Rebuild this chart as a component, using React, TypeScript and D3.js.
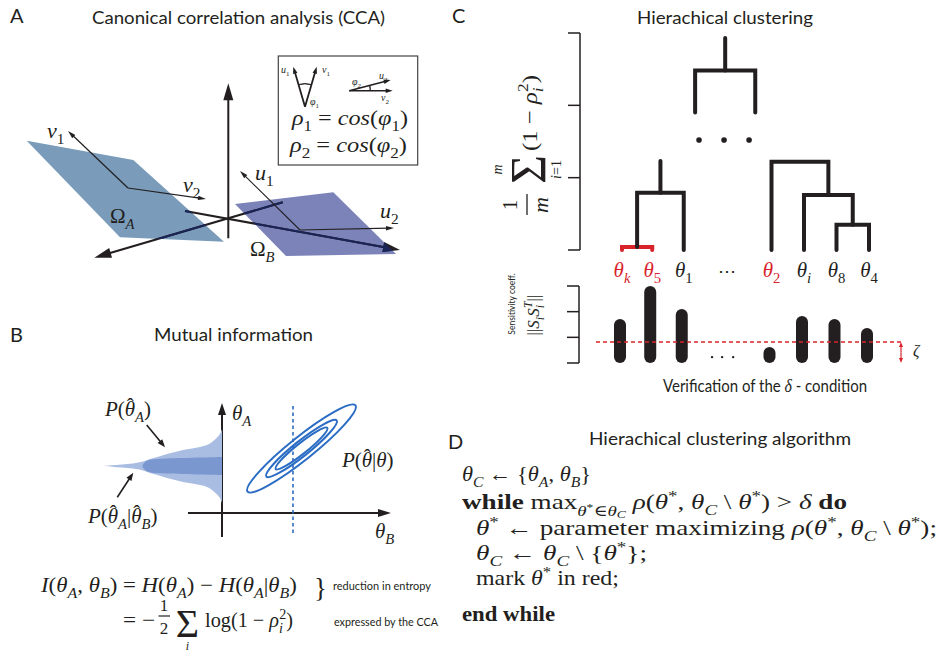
import React from 'react';
import * as d3 from 'd3';

const W = 939;
const H = 652;
const INK = '#231f20';
const RED = '#d9232a';
const SERIF = '"Liberation Serif", "DejaVu Serif", serif';
const SANS = 'Lato, "Open Sans", sans-serif';

// ---------------- Panel A (CCA) schematic geometry ----------------
const planeA: [number, number][] = [[26.7, 140.7], [133.3, 160], [224, 241.7], [120, 237.3]];
const planeB: [number, number][] = [[235, 204], [333.3, 192.3], [396, 254], [286, 256]];
const axisUp = [[228.3, 238.3], [228.3, 83.3]];
const axisRight = [[185, 211], [400, 250]];
const axisLeft = [[282.7, 202.3], [94.3, 257.7]];
const vOrigin = [128, 188];
const vTips = [[68, 131], [206, 199]];
const uOrigin = [300, 230];
const uTips = [[240, 171], [394, 228]];
const insetBox = [[278.3, 56], [417.7, 165]];
const insetApex = [305, 106.7];
const insetVTips = [[293.3, 66.7], [316.7, 66.7]];
const insetHOrigin = [349.3, 90.7];
const insetHTips = [[392.7, 90.7], [390.7, 80]];

// ---------------- Panel B (mutual information) ----------------
// half-width of the distributions as a function of the distance from the theta_A axis
const priorProfile: [number, number][] = [[0, 37], [2, 32], [5, 28.5], [10, 24], [15, 21], [22, 19], [30, 17.5], [39, 16], [47, 14], [55, 12], [63, 9.5], [72, 7], [79, 4.5], [89, 2.6], [100, 1.5], [110, 0.7], [119, 0]];
const posteriorProfile: [number, number][] = [[0, 9], [10, 8.8], [20, 8.5], [40, 8], [55, 7.6], [65, 7.1], [71, 6.4], [75, 5.2], [77.5, 3.6], [79, 1.5], [79.5, 0]];
const contourRx = [69, 45, 33];
const contourRy = [11.5, 7.5, 5.3];
const contourCenter = [301.5, 448.5];
const contourAngle = -38.6;

// ---------------- Panel C (dendrogram + sensitivities) ----------------
const leafSub = ['k', '5', '1', '2', 'i', '8', '4'];
const leafSubItalic = [true, false, false, false, true, false, false];
const leafRed = [true, true, false, true, false, false, false];
const leafSlot = [0, 0.93, 1.9, 4.6, 5.6, 6.6, 7.6];
const merges = [
  { a: 0, b: 1, h: 0.04, red: true },
  { a: 7, b: 2, h: 0.79, red: false },
  { a: 5, b: 6, h: 0.35, red: false },
  { a: 4, b: 9, h: 0.76, red: false },
  { a: 3, b: 10, h: 1.22, red: false },
];
const openStems = [{ node: 8, top: 1.23 }];
const rootBranchSlots = [2.25, 4.1];
const rootBranchBottom = 1.9;
const rootMerge = 2.48;
const rootTop = 2.93;
const elisionSlots = [2.37, 3.14, 3.91];
const elisionHeight = 1.52;
const leafEllipsisSlot = 3.23;
const dendroTicks = [0, 1, 2, 3];
const sensitivity = [1.71, 3.0, 2.1, 0.62, 1.83, 1.71, 1.36];
const sensTicks = [0, 1, 2, 3];
const deltaThreshold = 0.82;
const barEllipsisSlots = [2.77, 3.08, 3.42];
const barEllipsisValue = 0.23;

// ---------------- Math text helpers ----------------
type Seg = { t: string; i?: boolean; b?: boolean; off?: number; sc?: number; dx?: number; f?: string; c?: string };
const it = (t: string): Seg => ({ t, i: true });
const rm = (t: string): Seg => ({ t });
const bd = (t: string): Seg => ({ t, b: true });
const sb = (t: string, i = false, dx?: number): Seg => ({ t, i, off: 0.28, sc: 0.7, dx });
const sp = (t: string, i = false): Seg => ({ t, i, off: -0.38, sc: 0.7 });
// theta with a hat: the hat is a separate glyph pulled back over the theta
const hatTheta = (size: number): Seg[] => [it('θ'), { t: 'ˆ', dx: -0.4 * size, off: -0.12 }];
const afterHat = (size: number) => 0.06 * size;

function MText({ x, y, size, segs, fill = INK, anchor = 'start', len, family = SERIF, transform }: any) {
  let cur = 0;
  const kids = segs.map((s: Seg, k: number) => {
    const target = (s.off ?? 0) * size;
    const dy = target - cur;
    cur = target;
    return (
      <tspan key={k} dy={dy !== 0 ? dy : undefined} dx={s.dx} fontStyle={s.i ? 'italic' : 'normal'}
        fontWeight={s.b ? 'bold' : 'normal'} fontSize={size * (s.sc ?? 1)} fontFamily={s.f} fill={s.c}>{s.t}</tspan>
    );
  });
  return (
    <text x={x} y={y} fontSize={size} fontFamily={family} fill={fill} textAnchor={anchor}
      textLength={len} lengthAdjust={len ? 'spacingAndGlyphs' : undefined} transform={transform}
      style={{ whiteSpace: 'pre' }}>{kids}</text>
  );
}

function Arrow({ from, to, head = 10, width = 7, sw = 1.5, color = INK }: any) {
  const [x1, y1] = from;
  const [x2, y2] = to;
  const dx = x2 - x1, dy = y2 - y1;
  const L = Math.hypot(dx, dy);
  const ux = dx / L, uy = dy / L;
  const bx = x2 - ux * head, by = y2 - uy * head;
  const px = (-uy * width) / 2, py = (ux * width) / 2;
  return (
    <g>
      <line x1={x1} y1={y1} x2={x2 - ux * head * 0.6} y2={y2 - uy * head * 0.6} stroke={color} strokeWidth={sw} />
      <path d={`M${x2},${y2}L${bx + px},${by + py}L${bx - px},${by - py}Z`} fill={color} />
    </g>
  );
}

function Title({ x, y, text, len, size = 17 }: any) {
  return (
    <text x={x} y={y} fontFamily={SANS} fontSize={size} fill={INK} textAnchor="middle" textLength={len} lengthAdjust="spacingAndGlyphs">{text}</text>
  );
}

function PanelLetter({ x, y, text }: any) {
  return <text x={x} y={y} fontFamily={SANS} fontSize={20} fill={INK}>{text}</text>;
}

// ---------------- Panel A ----------------
function PanelA() {
  const poly = (p: [number, number][]) => 'M' + p.map((q) => q.join(',')).join('L') + 'Z';
  const axisLine = (a: number[][]) => (
    <Arrow from={a[0]} to={a[1]} head={17} width={10} sw={2} />
  );
  const arcPath = (cx: number, cy: number, r: number, a0: number, a1: number) => {
    const arc = d3.arc()({ innerRadius: r, outerRadius: r, startAngle: a0, endAngle: a1 } as any) as string;
    return <path d={arc} transform={`translate(${cx},${cy})`} fill="none" stroke={INK} strokeWidth={0.9} />;
  };
  const angL = Math.atan2(insetVTips[0][0] - insetApex[0], -(insetVTips[0][1] - insetApex[1]));
  const angR = Math.atan2(insetVTips[1][0] - insetApex[0], -(insetVTips[1][1] - insetApex[1]));
  const angU = Math.atan2(insetHTips[1][0] - insetHOrigin[0], -(insetHTips[1][1] - insetHOrigin[1]));
  return (
    <g>
      <defs>
        <clipPath id="planesClip">
          <path d={poly(planeA)} />
          <path d={poly(planeB)} />
        </clipPath>
      </defs>
      <PanelLetter x={10} y={23} text="A" />
      <Title x={238.5} y={23.5} text="Canonical correlation analysis (CCA)" len={293} />
      <path d={poly(planeA)} fill="#7a9cba" />
      <path d={poly(planeB)} fill="#7b83b9" />
      {axisLine(axisUp)}
      {axisLine(axisRight)}
      {axisLine(axisLeft)}
      <g clipPath="url(#planesClip)">
        <Arrow from={axisRight[0]} to={axisRight[1]} head={17} width={10} sw={2} color="#1b2456" />
        <Arrow from={axisLeft[0]} to={axisLeft[1]} head={17} width={10} sw={2} color="#1b2456" />
      </g>
      {vTips.map((t, k) => <Arrow key={'v' + k} from={vOrigin} to={t} head={8} width={4.5} sw={1.2} />)}
      {uTips.map((t, k) => <Arrow key={'u' + k} from={uOrigin} to={t} head={8} width={4.5} sw={1.1} color="#222" />)}
      <MText x={47} y={138} size={22} segs={[it('v'), sb('1')]} />
      <MText x={183} y={192} size={22} segs={[it('v'), sb('2')]} />
      <MText x={255} y={180} size={22} segs={[it('u'), sb('1')]} />
      <MText x={380} y={218} size={22} segs={[it('u'), sb('2')]} />
      <MText x={110} y={223} size={21} segs={[rm('Ω'), sb('A', true)]} />
      <MText x={250} y={256} size={21} segs={[rm('Ω'), sb('B', true)]} />
      {/* inset */}
      <rect x={insetBox[0][0]} y={insetBox[0][1]} width={insetBox[1][0] - insetBox[0][0]} height={insetBox[1][1] - insetBox[0][1]} fill="#fff" stroke="#444" strokeWidth={1.2} />
      {insetVTips.map((t, k) => <Arrow key={'iv' + k} from={insetApex} to={t} head={7} width={4.5} sw={1.8} />)}
      {insetHTips.map((t, k) => <Arrow key={'ih' + k} from={insetHOrigin} to={t} head={7} width={4.5} sw={1.6} />)}
      {arcPath(insetApex[0], insetApex[1], 23, angL, angR)}
      {arcPath(insetHOrigin[0], insetHOrigin[1], 21, angU, Math.PI / 2)}
      <MText x={281} y={73} size={10} segs={[it('u'), sb('1')]} />
      <MText x={322} y={73} size={10} segs={[it('v'), sb('1')]} />
      <MText x={310} y={105} size={10} segs={[it('φ'), sb('1')]} />
      <MText x={352} y={85} size={10} segs={[it('φ'), sb('2')]} />
      <MText x={379} y={79} size={10} segs={[it('u'), sb('2')]} />
      <MText x={381} y={101} size={10} segs={[it('v'), sb('2')]} />
      <MText x={292} y={125} size={20} len={116} segs={[it('ρ'), sb('1'), rm(' = '), it('cos'), rm('('), it('φ'), sb('1'), rm(')')]} />
      <MText x={290} y={152} size={20} len={117} segs={[it('ρ'), sb('2'), rm(' = '), it('cos'), rm('('), it('φ'), sb('2'), rm(')')]} />
    </g>
  );
}

// ---------------- Panel B ----------------
function PanelB() {
  const axisX = 222;
  const dX = d3.scaleLinear().domain([0, 119]).range([axisX, axisX - 119]);
  const yC = d3.scaleLinear().domain([-40, 40]).range([466 + 40, 466 - 40]);
  const area = d3.area<[number, number]>()
    .x((p) => dX(p[0]))
    .y0((p) => yC(-p[1]))
    .y1((p) => yC(p[1]))
    .curve(d3.curveCatmullRom);
  const s = 21;
  return (
    <g>
      <PanelLetter x={10} y={341.5} text="B" />
      <Title x={233.5} y={341} text="Mutual information" len={159} />
      <Arrow from={[axisX, 537]} to={[axisX, 403]} head={12} width={8} sw={2} />
      <path d={area(priorProfile) as string} fill="#a9bde2" />
      <path d={area(posteriorProfile) as string} fill="#7b97d0" />
      <Arrow from={[188, 513]} to={[391, 513]} head={13} width={8} sw={2} />
      <line x1={293} x2={293} y1={406} y2={535} stroke="#2f6bc0" strokeWidth={1.6} strokeDasharray="3.5,3" />
      {contourRx.map((rx, k) => (
        <ellipse key={k} cx={contourCenter[0]} cy={contourCenter[1]} rx={rx} ry={contourRy[k]}
          transform={`rotate(${contourAngle},${contourCenter[0]},${contourCenter[1]})`}
          fill="none" stroke="#2b6cc4" strokeWidth={2} />
      ))}
      <MText x={232} y={420} size={21} segs={[it('θ'), sb('A', true)]} />
      <MText x={375} y={538} size={21} segs={[it('θ'), sb('B', true)]} />
      <MText x={342} y={467} size={s} segs={[it('P'), rm('('), ...hatTheta(s), { t: '|', dx: afterHat(s) }, it('θ'), rm(')')]} />
      <MText x={105} y={416} size={s} segs={[it('P'), rm('('), ...hatTheta(s), sb('A', true, afterHat(s)), rm(')')]} />
      <MText x={88} y={523} size={s} segs={[it('P'), rm('('), ...hatTheta(s), sb('A', true, afterHat(s)), rm('|'), ...hatTheta(s), sb('B', true, afterHat(s)), rm(')')]} />
      <Arrow from={[146.7, 425]} to={[165, 447.3]} head={8} width={6} sw={1.6} />
      <Arrow from={[117.3, 497.3]} to={[133.3, 472.7]} head={8} width={6} sw={1.6} />
      {/* formula */}
      <MText x={41} y={592} size={21} len={256}
        segs={[it('I'), rm('('), it('θ'), sb('A', true), rm(', '), it('θ'), sb('B', true), rm(') = '), it('H'), rm('('), it('θ'), sb('A', true), rm(') − '), it('H'), rm('('), it('θ'), sb('A', true), rm('|'), it('θ'), sb('B', true), rm(')')]} />
      <text x={314} y={597} fontFamily={SERIF} fontSize={27} fill={INK}>{'}'}</text>
      <text x={333} y={590} fontFamily={SANS} fontSize={10.5} fill={INK} textLength={98} lengthAdjust="spacingAndGlyphs">reduction in entropy</text>
      <MText x={123} y={627} size={21} len={32} segs={[rm('= −')]} />
      <text x={164} y={611} fontFamily={SERIF} fontSize={17} fill={INK} textAnchor="middle">1</text>
      <line x1={158.5} x2={170} y1={616} y2={616} stroke={INK} strokeWidth={1.2} />
      <text x={164} y={634} fontFamily={SERIF} fontSize={17} fill={INK} textAnchor="middle">2</text>
      <text x={187.5} y={637} fontFamily={SERIF} fontSize={40} fill={INK} textAnchor="middle">Σ</text>
      <text x={187.5} y={650} fontFamily={SERIF} fontSize={12} fontStyle="italic" fill={INK} textAnchor="middle">i</text>
      <MText x={205} y={627} size={21} len={88} segs={[rm('log(1 − '), it('ρ'), sb('i', true), { t: '2', off: -0.4, sc: 0.7, dx: -4 }, rm(')')]} />
      <text x={334} y={626} fontFamily={SANS} fontSize={10.5} fill={INK} textLength={104} lengthAdjust="spacingAndGlyphs">expressed by the CCA</text>
    </g>
  );
}

// ---------------- Panel C ----------------
function PanelC() {
  const xC = d3.scaleLinear().domain([0, 7.6]).range([622, 869]);
  const yD = d3.scaleLinear().domain([0, 3]).range([250, 33]);
  const yS = d3.scaleLinear().domain([0, 3]).range([363, 286]);
  const nodes: { x: number; h: number }[] = leafSlot.map((s) => ({ x: s, h: 0 }));
  merges.forEach((m) => nodes.push({ x: (nodes[m.a].x + nodes[m.b].x) / 2, h: m.h }));
  const barShift = -2;
  const barW = 12;
  return (
    <g>
      <PanelLetter x={452} y={23} text="C" />
      <Title x={725} y={23.5} text="Hierachical clustering" len={176} />
      {/* dendrogram axis */}
      <line x1={580} x2={580} y1={yD(3)} y2={yD(0)} stroke={INK} strokeWidth={1.5} />
      {dendroTicks.map((t) => <line key={t} x1={568} x2={580} y1={yD(t)} y2={yD(t)} stroke={INK} strokeWidth={1.5} />)}
      {/* y label (rotated) */}
      <g transform="translate(537,217) rotate(-90)">
        <text x={12} y={-20} fontFamily={SERIF} fontSize={21} fill={INK} textAnchor="middle">1</text>
        <line x1={2} x2={23} y1={-10} y2={-10} stroke={INK} strokeWidth={1.3} />
        <text x={12} y={11} fontFamily={SERIF} fontSize={22} fontStyle="italic" fill={INK} textAnchor="middle">m</text>
        <text x={47.5} y={8} fontFamily={SERIF} fontSize={50} fill={INK} textAnchor="middle">Σ</text>
        <text x={47.5} y={-35} fontFamily={SERIF} fontSize={14} fontStyle="italic" fill={INK} textAnchor="middle">m</text>
        <MText x={47.5} y={24} size={14} anchor="middle" segs={[it('i'), rm('=1')]} />
        <MText x={66} y={0} size={22} len={76} segs={[rm('(1 − '), it('ρ'), sb('i', true), { t: '2', off: -0.4, sc: 0.7, dx: -4 }, rm(')')]} />
      </g>
      {/* dendrogram links */}
      {merges.map((m, k) => {
        const a = nodes[m.a], b = nodes[m.b];
        const d = `M${xC(a.x)},${yD(a.h)}V${yD(m.h)}H${xC(b.x)}V${yD(b.h)}`;
        return <path key={k} d={d} fill="none" stroke={m.red ? RED : INK} strokeWidth={4} strokeLinecap="round" strokeLinejoin="miter" />;
      })}
      {openStems.map((s, k) => (
        <line key={k} x1={xC(nodes[s.node].x)} x2={xC(nodes[s.node].x)} y1={yD(nodes[s.node].h)} y2={yD(s.top)} stroke={INK} strokeWidth={4} strokeLinecap="round" />
      ))}
      <path d={`M${xC(rootBranchSlots[0])},${yD(rootBranchBottom)}V${yD(rootMerge)}H${xC(rootBranchSlots[1])}V${yD(rootBranchBottom)}`} fill="none" stroke={INK} strokeWidth={4} strokeLinecap="round" />
      <line x1={xC((rootBranchSlots[0] + rootBranchSlots[1]) / 2)} x2={xC((rootBranchSlots[0] + rootBranchSlots[1]) / 2)} y1={yD(rootMerge)} y2={yD(rootTop)} stroke={INK} strokeWidth={4} strokeLinecap="round" />
      {elisionSlots.map((s, k) => <circle key={k} cx={xC(s)} cy={yD(elisionHeight)} r={2.8} fill={INK} />)}
      {/* leaf labels */}
      {leafSlot.map((s, k) => (
        <MText key={k} x={xC(s)} y={277} size={21} anchor="middle" fill={leafRed[k] ? RED : INK}
          segs={[it('θ'), sb(leafSub[k], leafSubItalic[k])]} />
      ))}
      <text x={xC(leafEllipsisSlot)} y={277} fontFamily={SERIF} fontSize={18} fill={INK} textAnchor="middle">⋯</text>
      {/* sensitivity axis */}
      <line x1={579} x2={579} y1={yS(3)} y2={yS(0)} stroke={INK} strokeWidth={1.5} />
      {sensTicks.map((t) => <line key={t} x1={567} x2={579} y1={yS(t)} y2={yS(t)} stroke={INK} strokeWidth={1.5} />)}
      <text transform="translate(515,304) rotate(-90)" fontFamily={SANS} fontSize={8.5} fill={INK} textAnchor="middle">Sensitivity coeff.</text>
      <MText transform="translate(539,315) rotate(-90)" x={0} y={0} size={17} anchor="middle"
        segs={[rm('||'), it('S'), sb('i', true), it('S'), { t: 'i', i: true, off: 0.28, sc: 0.7 }, { t: 'T', i: true, off: -0.42, sc: 0.7, dx: -3 }, rm('||')]} />
      {sensitivity.map((v, k) => (
        <rect key={k} x={xC(leafSlot[k]) + barShift - barW / 2} y={yS(v)} width={barW} height={yS(0) - yS(v)} rx={barW / 2} fill={INK} />
      ))}
      {barEllipsisSlots.map((s, k) => <circle key={k} cx={xC(s)} cy={yS(barEllipsisValue)} r={1.2} fill={INK} />)}
      <line x1={596} x2={901} y1={yS(deltaThreshold)} y2={yS(deltaThreshold)} stroke={RED} strokeWidth={1.5} strokeDasharray="4,3" />
      <Arrow from={[901, (yS(deltaThreshold) + yS(0)) / 2]} to={[901, yS(deltaThreshold)]} head={5} width={4} sw={1.2} color={RED} />
      <Arrow from={[901, (yS(deltaThreshold) + yS(0)) / 2]} to={[901, yS(0)]} head={5} width={4} sw={1.2} color={RED} />
      <MText x={913} y={356} size={16} segs={[it('ζ')]} />
      <text x={765} y={392} fontFamily={SANS} fontSize={17} fill={INK} textAnchor="middle" textLength={204} lengthAdjust="spacingAndGlyphs" style={{ whiteSpace: 'pre' }}>
        <tspan>Verification of the </tspan>
        <tspan fontFamily={SERIF} fontStyle="italic" fontSize={18}>δ</tspan>
        <tspan> - condition</tspan>
      </text>
    </g>
  );
}

// ---------------- Panel D ----------------
function PanelD() {
  const s = 22;
  return (
    <g>
      <PanelLetter x={448} y={449} text="D" />
      <Title x={720} y={445} text="Hierachical clustering algorithm" len={262} />
      <MText x={462} y={481} size={s} len={129} segs={[it('θ'), sb('C', true), rm(' ← {'), it('θ'), sb('A', true), rm(', '), it('θ'), sb('B', true), rm('}')]} />
      <MText x={462} y={509} size={s} len={385}
        segs={[bd('while'), rm(' max'), { t: 'θ', i: true, off: 0.3, sc: 0.7 }, { t: '*', off: 0.1, sc: 0.5 }, { t: '∈', off: 0.3, sc: 0.7 }, { t: 'θ', i: true, off: 0.3, sc: 0.7 }, { t: 'C', i: true, off: 0.42, sc: 0.5 }, rm(' '), it('ρ'), rm('('), it('θ'), sp('*'), rm(', '), it('θ'), sb('C', true), rm(' \\ '), it('θ'), sp('*'), rm(') > '), it('δ'), rm(' '), bd('do')]} />
      <MText x={476} y={535} size={s} len={461}
        segs={[it('θ'), sp('*'), rm(' ← parameter maximizing '), it('ρ'), rm('('), it('θ'), sp('*'), rm(', '), it('θ'), sb('C', true), rm(' \\ '), it('θ'), sp('*'), rm(');')]} />
      <MText x={476} y={560} size={s} len={171} segs={[it('θ'), sb('C', true), rm(' ← '), it('θ'), sb('C', true), rm(' \\ {'), it('θ'), sp('*'), rm('};')]} />
      <MText x={476} y={585} size={s} len={143} segs={[rm('mark '), it('θ'), sp('*'), rm(' in red;')]} />
      <MText x={462} y={621} size={s} len={93} segs={[bd('end while')]} />
    </g>
  );
}

export default function App() {
  return (
    <svg width={W} height={H} viewBox={`0 0 ${W} ${H}`} style={{ position: 'absolute', left: 0, top: 0, background: '#fff' }}>
      <rect width={W} height={H} fill="#fff" />
      <PanelA />
      <PanelB />
      <PanelC />
      <PanelD />
    </svg>
  );
}
